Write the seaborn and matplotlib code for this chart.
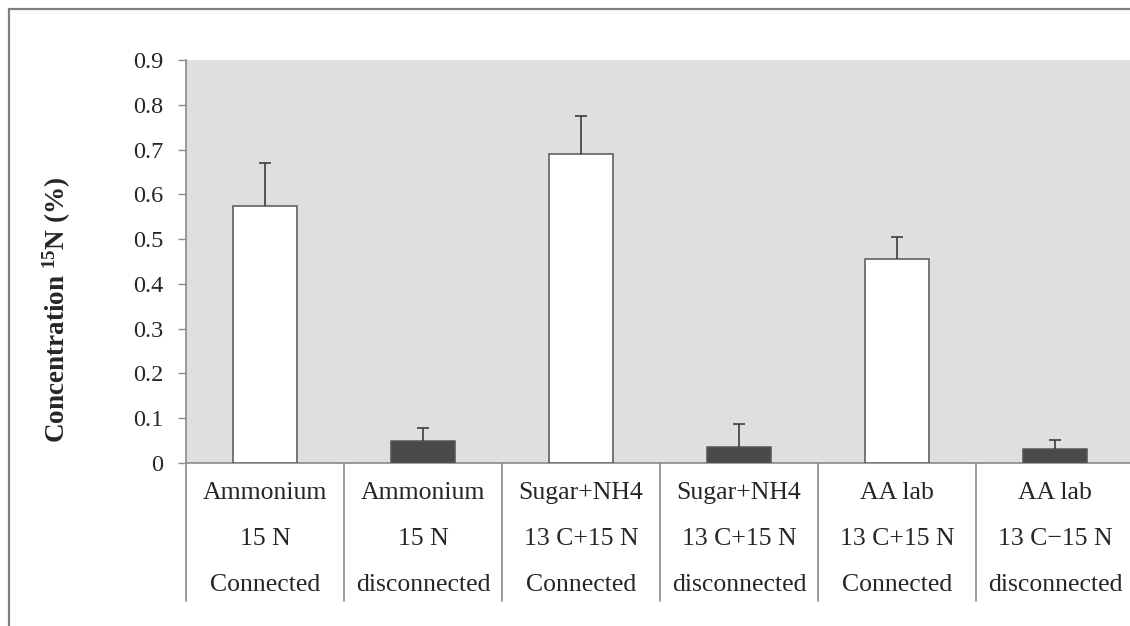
import numpy as np
import pandas as pd
import matplotlib
matplotlib.use("Agg")
import matplotlib.pyplot as plt
import matplotlib.transforms as mtransforms
from matplotlib.patches import Rectangle
import seaborn as sns

# data
line1 = ["Ammonium", "Ammonium", "Sugar+NH4", "Sugar+NH4", "AA lab", "AA lab"]
line2 = ["15 N", "15 N", "13 C+15 N", "13 C+15 N", "13 C+15 N", "13 C\u221215 N"]
line3 = ["Connected", "disconnected", "Connected", "disconnected", "Connected", "disconnected"]
values = [0.574, 0.049, 0.690, 0.036, 0.455, 0.032]
errors = [0.096, 0.030, 0.085, 0.051, 0.049, 0.020]
bar_colors = ["#ffffff", "#4a4a4a", "#ffffff", "#4a4a4a", "#ffffff", "#4a4a4a"]

cats = [f"{a}|{b}|{c}" for a, b, c in zip(line1, line2, line3)]
df = pd.DataFrame({"cat": cats, "value": values})

sns.set_style("white")
plt.rcParams["font.family"] = ["Liberation Serif", "DejaVu Serif"]
plt.rcParams["mathtext.fontset"] = "custom"
plt.rcParams["mathtext.rm"] = "Liberation Serif"
plt.rcParams["mathtext.bf"] = "Liberation Serif:bold"

fig = plt.figure(figsize=(11.3, 6.26), dpi=100)
ax = fig.add_axes([186 / 1130, 1 - 463 / 626, 948 / 1130, 403 / 626])
ax.set_facecolor("#dfdfdf")

sns.barplot(data=df, x="cat", y="value", hue="cat", palette=bar_colors,
            legend=False, width=0.4, errorbar=None, edgecolor="#555555",
            linewidth=1.1, ax=ax, zorder=3)

x = np.arange(len(values))
eb = ax.errorbar(x, values, yerr=[np.zeros(len(errors)), errors], fmt="none",
                 ecolor="#3c3c3c", elinewidth=1.2, capsize=4.5, capthick=1.2, zorder=4)
# only the upper cap, as in the reference
eb[1][0].set_visible(False)

ax.set_xlim(-0.5, 5.5)
ax.set_ylim(0, 0.9)
ax.set_yticks(np.arange(0, 0.91, 0.1))
ax.set_yticklabels(["0"] + [f"{v:.1f}" for v in np.arange(0.1, 0.91, 0.1)], fontsize=17.5)
ax.tick_params(axis="y", direction="out", length=5.5, width=1, color="#8a8a8a",
               left=True, pad=11)
ax.set_xticks([])
ax.set_xlabel("")
ax.set_ylabel("")

for s in ["top", "right"]:
    ax.spines[s].set_visible(False)
for s in ["left", "bottom"]:
    ax.spines[s].set_color("#8a8a8a")
    ax.spines[s].set_linewidth(1.2)

# category "table" under the axis
trans = mtransforms.blended_transform_factory(ax.transData, ax.transAxes)
for xb in np.arange(-0.5, 6.0, 1.0):
    ax.plot([xb, xb], [0, -0.342], transform=trans, color="#8a8a8a",
            lw=1.2, clip_on=False)
line_y = [-0.0744, -0.1886, -0.3027]
for i in range(len(values)):
    for yy, txt in zip(line_y, [line1[i], line2[i], line3[i]]):
        ax.text(i, yy, txt, transform=trans, ha="center", va="center", fontsize=18.5)

fig.text(57 / 1130, 1 - 310 / 626, r"Concentration $\mathbf{^{15}N}$ (%)",
         rotation=90, ha="center", va="center", fontsize=19.5, fontweight="bold")

# outer chart frame
fig.add_artist(Rectangle((9 / 1130, -0.1), 1.5, 1 - 9 / 626 + 0.1, transform=fig.transFigure,
                         fill=False, edgecolor="#808080", lw=1.6))

fig.savefig("out.png", dpi=100)
